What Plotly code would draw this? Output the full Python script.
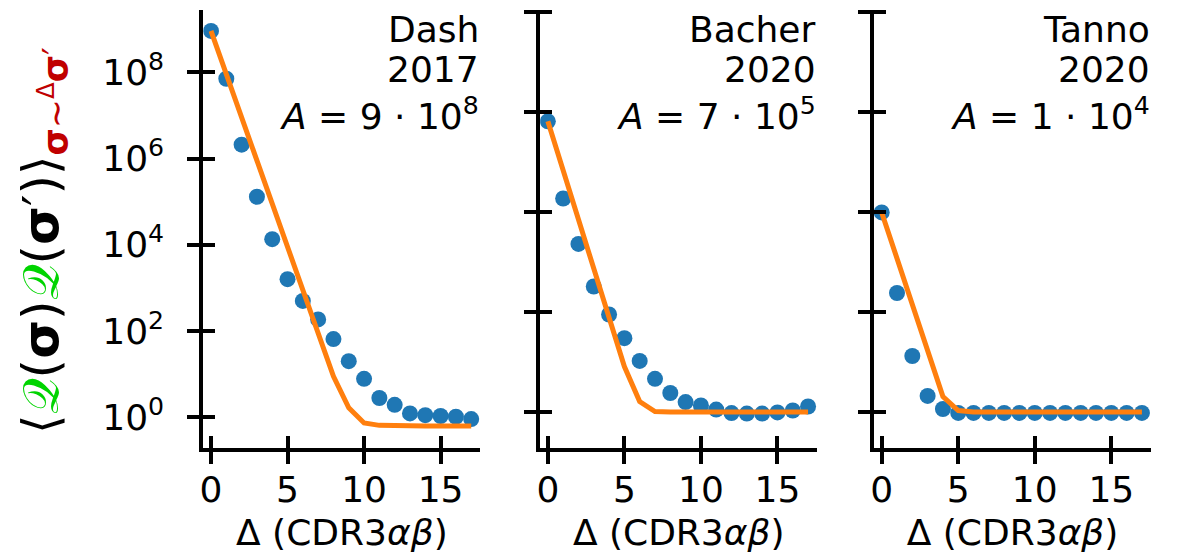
import plotly.graph_objects as go

delta = list(range(18))

dataset_names = ["Dash", "Bacher", "Tanno"]
dataset_years = ["2017", "2020", "2020"]
amplitudes = ["9 · 10<sup>8</sup>", "7 · 10<sup>5</sup>", "1 · 10<sup>4</sup>"]

dash_obs = [9.1e8, 7.1e7, 2.1e6, 1.3e5, 1.35e4, 1.6e3, 500, 186, 65, 20, 7.8, 2.8,
            1.95, 1.23, 1.12, 1.07, 1.03, 0.91]
dash_fit = [9.1e8, 9.1e7, 9.1e6, 8.7e5, 8.5e4, 8.3e3, 830, 83, 8.9, 1.66, 0.74, 0.65,
            0.63, 0.63, 0.63, 0.63, 0.63, 0.63]
bacher_obs = [6.5e5, 1.86e4, 2.3e3, 324, 89, 30, 10.5, 4.6, 2.4, 1.58, 1.35, 1.12,
              0.95, 0.93, 0.93, 0.98, 1.07, 1.29]
bacher_fit = [6.5e5, 6.8e4, 7.1e3, 741, 78, 8.1, 1.62, 1.02, 1.0, 1.0, 1.0, 1.0,
              1.0, 1.0, 1.0, 1.0, 1.0, 1.0]
tanno_obs = [9.8e3, 240, 13.2, 2.1, 1.15, 0.96, 0.96, 0.96, 0.96, 0.96, 0.96, 0.96,
             0.96, 0.96, 0.96, 0.96, 0.96, 0.96]
tanno_fit = [9.8e3, 1.17e3, 141, 17, 2.04, 1.07, 1.0, 1.0, 1.0, 1.0, 1.0, 1.0,
             1.0, 1.0, 1.0, 1.0, 1.0, 1.0]

obs = [dash_obs, bacher_obs, tanno_obs]
fit = [dash_fit, bacher_fit, tanno_fit]

ytick_vals = [1, 1e2, 1e4, 1e6, 1e8]
ytick_text = ["10<sup>0</sup>", "10<sup>2</sup>", "10<sup>4</sup>", "10<sup>6</sup>", "10<sup>8</sup>"]
xtick_vals = [0, 5, 10, 15]
xtick_text = ["0", "5", "10", "15"]

# page body has an 8px default margin: figure drawn at (8, 8) in the window
OFF = 8
W, H = 1180 - OFF, 560 - OFF
FONT = "DejaVu Sans"
FS = 36
BLUE = "#1f77b4"
ORANGE = "#ff7f0e"
GREEN = "#00d400"
RED = "#c00000"

# layout positions in window pixels
x_pix = [(200, 478), (538, 816), (873, 1151)]
Y_TOP, Y_BOT = 10, 448


def fx(p):
    return (p - OFF) / W


def fy(p):
    return 1 - (p - OFF) / H


y_dom = [fy(Y_BOT), fy(Y_TOP)]
y_ranges = [[-0.712, 9.445], [-0.72, 8.04], [-0.72, 8.04]]
x_range = [-0.5, 17.6]


def ydom(p):
    """window pixel from top -> fraction of the y domain"""
    return (Y_BOT - p) / (Y_BOT - Y_TOP)


fig = go.Figure()
layout = dict(
    width=W, height=H,
    margin=dict(l=0, r=0, t=0, b=0),
    paper_bgcolor="white", plot_bgcolor="white",
    showlegend=False,
    font=dict(family=FONT, size=FS, color="black"),
)

annotations = []
for i in range(3):
    n = i + 1
    xa = f"x{n}" if n > 1 else "x"
    ya = f"y{n}" if n > 1 else "y"
    xo, yo = f"x{n+3}", f"y{n+3}"
    dom = [fx(x_pix[i][0]), fx(x_pix[i][1])]

    fig.add_trace(go.Scatter(x=delta, y=obs[i], mode="markers",
                             marker=dict(color=BLUE, size=16, line=dict(width=0)),
                             xaxis=xa, yaxis=ya))
    fig.add_trace(go.Scatter(x=delta, y=fit[i], mode="lines",
                             line=dict(color=ORANGE, width=5),
                             xaxis=xa, yaxis=ya))
    fig.add_trace(go.Scatter(x=[None], y=[None], xaxis=xo, yaxis=yo, hoverinfo="skip"))

    common_x = dict(domain=dom, range=x_range, tickvals=xtick_vals,
                    showgrid=False, zeroline=False, tickwidth=4, ticklen=12,
                    tickcolor="black")
    common_y = dict(domain=y_dom, type="log", range=y_ranges[i], tickvals=ytick_vals,
                    showgrid=False, zeroline=False, tickwidth=4, ticklen=12,
                    tickcolor="black")

    layout["xaxis" + (str(n) if n > 1 else "")] = dict(
        **common_x, anchor=ya, ticks="outside", showline=True, linewidth=4,
        linecolor="black", ticktext=xtick_text,
        tickfont=dict(size=FS, family=FONT), ticklabelstandoff=-5,
        title=dict(text="Δ (CDR3<i>αβ</i>)", font=dict(size=FS, family=FONT), standoff=12),
    )
    layout["yaxis" + (str(n) if n > 1 else "")] = dict(
        **common_y, anchor=xa, ticks="outside", showline=True, linewidth=4,
        linecolor="black", ticktext=ytick_text, showticklabels=(i == 0),
        tickfont=dict(size=FS, family=FONT), ticklabelstandoff=16,
    )
    layout[f"xaxis{n+3}"] = dict(**common_x, anchor=yo, overlaying=xa, ticks="inside",
                                 showline=False, showticklabels=False)
    layout[f"yaxis{n+3}"] = dict(**common_y, anchor=xo, overlaying=ya, ticks="inside",
                                 showline=False, showticklabels=False)

    lines = [dataset_names[i], dataset_years[i], f"<i>A</i> = {amplitudes[i]}"]
    bottoms = [50.5, 90.5, 137.5]
    for txt, b in zip(lines, bottoms):
        annotations.append(dict(
            xref=f"{xa} domain", yref=f"{ya} domain", x=1.0, y=ydom(b),
            xanchor="right", yanchor="bottom", align="right", showarrow=False,
            borderpad=0,
            text=txt, font=dict(size=FS, family=FONT, color="black"),
        ))

Q = f"<span style='color:{GREEN}'>𝒬</span>"
ylabel = (f"⟨{Q}(<b>σ</b>){Q}(<b>σ</b>′)⟩"
          f"<sub><span style='color:{RED}'><b>σ</b>∼<sup>Δ</sup><b>σ</b>′</span></sub>")
annotations.append(dict(
    xref="paper", yref="paper", x=fx(40), y=fy(240),
    xanchor="center", yanchor="middle", textangle=-90, showarrow=False,
    text=ylabel, font=dict(size=50, family=FONT, color="black"),
))

layout["annotations"] = annotations
fig.update_layout(**layout)
fig.write_html("out.html")
